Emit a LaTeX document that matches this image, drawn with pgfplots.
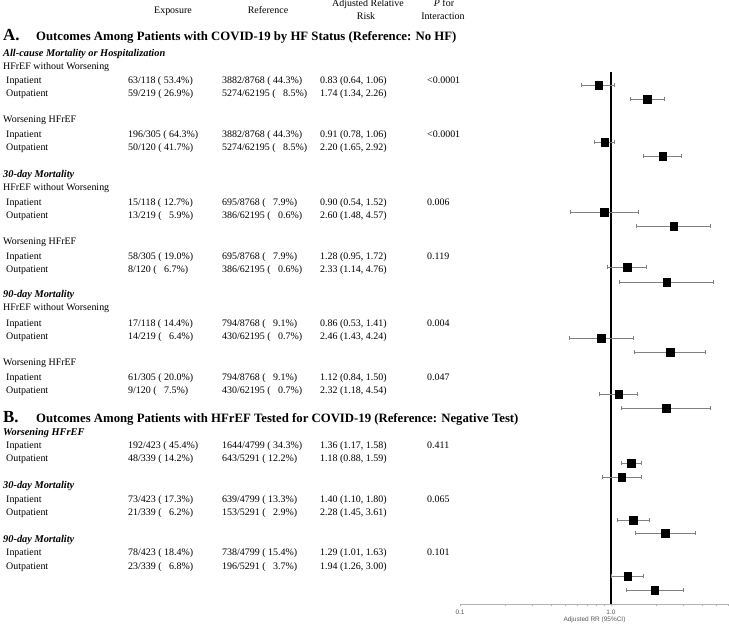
\documentclass[border=0pt]{standalone}
\usepackage{pgfplots}
\pgfplotsset{compat=1.18}
\usepackage{pgfplotstable}
\usepackage{fontspec}
\setmainfont{Liberation Serif}
\setsansfont{Liberation Sans}

% forest rows: rr, CI, pixel row of the square
\pgfplotstableread{
rr   lo   hi   row
0.83 0.64 1.06 85
1.74 1.34 2.26 99
0.91 0.78 1.06 142
2.20 1.65 2.92 156
0.90 0.54 1.52 212
2.60 1.48 4.57 226
1.28 0.95 1.72 267
2.33 1.14 4.76 282
0.86 0.53 1.41 338
2.46 1.43 4.24 352
1.12 0.84 1.50 394
2.32 1.18 4.54 408
1.36 1.17 1.58 463
1.18 0.88 1.59 477
1.40 1.10 1.80 520
2.28 1.45 3.61 533
1.29 1.01 1.63 576
1.94 1.26 3.00 590
}\forest

\tikzset{
  cell/.style={anchor=west, inner sep=0pt, text height=7bp, text depth=2bp, font=\fontsize{10}{12}\selectfont},
  hdr/.style={anchor=center, inner sep=0pt, text height=7bp, text depth=2bp, font=\fontsize{10}{12}\selectfont},
  sec/.style={anchor=west, inner sep=0pt, text height=7bp, text depth=2bp, font=\fontsize{10.4}{12}\selectfont\bfseries\itshape},
}
\newcommand{\datarow}[6]{%
  \node[cell] at (6,#1) {#2};
  \node[cell] at (128,#1) {#3};
  \node[cell] at (222,#1) {#4};
  \node[cell] at (320,#1) {#5};
  \node[cell] at (427,#1) {#6};}
\newcommand{\pp}{\hphantom{0}}

\begin{document}
\begin{tikzpicture}
\useasboundingbox (0bp,0bp) rectangle (729bp,-631bp);

\begin{scope}[x=1bp, y=-1bp]
% column headers
\node[hdr] at (173,11) {Exposure};
\node[hdr] at (268,11) {Reference};
\node[hdr] at (368,4) {Adjusted Relative};
\node[hdr] at (366,17) {Risk};
\node[hdr] at (444,4) {\textit{P} for};
\node[hdr] at (443,17) {Interaction};

% panel A
\node[anchor=base west, inner sep=0pt, font=\fontsize{17}{17}\selectfont\bfseries] at (3,40) {A.};
\node[anchor=base west, inner sep=0pt, font=\fontsize{12.8}{14}\selectfont\bfseries] at (36,40) {Outcomes Among Patients with COVID-19 by HF Status (Reference: No HF)};

\node[sec] at (3,54) {All-cause Mortality or Hospitalization};
\node[cell] at (3,67) {HFrEF without Worsening};
\datarow{81}{Inpatient}{63/118 (~53.4\%)}{3882/8768 (~44.3\%)}{0.83 (0.64, 1.06)}{<0.0001}
\datarow{94}{Outpatient}{59/219 (~26.9\%)}{5274/62195 (~\pp8.5\%)}{1.74 (1.34, 2.26)}{}
\node[cell] at (3,120) {Worsening HFrEF};
\datarow{135}{Inpatient}{196/305 (~64.3\%)}{3882/8768 (~44.3\%)}{0.91 (0.78, 1.06)}{<0.0001}
\datarow{148}{Outpatient}{50/120 (~41.7\%)}{5274/62195 (~\pp8.5\%)}{2.20 (1.65, 2.92)}{}

\node[sec] at (3,175) {30-day Mortality};
\node[cell] at (3,188) {HFrEF without Worsening};
\datarow{203}{Inpatient}{15/118 (~12.7\%)}{695/8768 (~\pp7.9\%)}{0.90 (0.54, 1.52)}{0.006}
\datarow{216}{Outpatient}{13/219 (~\pp5.9\%)}{386/62195 (~\pp0.6\%)}{2.60 (1.48, 4.57)}{}
\node[cell] at (3,242) {Worsening HFrEF};
\datarow{257}{Inpatient}{58/305 (~19.0\%)}{695/8768 (~\pp7.9\%)}{1.28 (0.95, 1.72)}{0.119}
\datarow{270}{Outpatient}{8/120 (~\pp6.7\%)}{386/62195 (~\pp0.6\%)}{2.33 (1.14, 4.76)}{}

\node[sec] at (3,295) {90-day Mortality};
\node[cell] at (3,308) {HFrEF without Worsening};
\datarow{324}{Inpatient}{17/118 (~14.4\%)}{794/8768 (~\pp9.1\%)}{0.86 (0.53, 1.41)}{0.004}
\datarow{337}{Outpatient}{14/219 (~\pp6.4\%)}{430/62195 (~\pp0.7\%)}{2.46 (1.43, 4.24)}{}
\node[cell] at (3,363) {Worsening HFrEF};
\datarow{378}{Inpatient}{61/305 (~20.0\%)}{794/8768 (~\pp9.1\%)}{1.12 (0.84, 1.50)}{0.047}
\datarow{391}{Outpatient}{9/120 (~\pp7.5\%)}{430/62195 (~\pp0.7\%)}{2.32 (1.18, 4.54)}{}

% panel B
\node[anchor=base west, inner sep=0pt, font=\fontsize{17}{17}\selectfont\bfseries] at (3,422) {B.};
\node[anchor=base west, inner sep=0pt, font=\fontsize{12.8}{14}\selectfont\bfseries] at (36,422) {Outcomes Among Patients with HFrEF Tested for COVID-19 (Reference: Negative Test)};

\node[sec] at (3,433) {Worsening HFrEF};
\datarow{446}{Inpatient}{192/423 (~45.4\%)}{1644/4799 (~34.3\%)}{1.36 (1.17, 1.58)}{0.411}
\datarow{459}{Outpatient}{48/339 (~14.2\%)}{643/5291 (~12.2\%)}{1.18 (0.88, 1.59)}{}
\node[sec] at (3,486) {30-day Mortality};
\datarow{500}{Inpatient}{73/423 (~17.3\%)}{639/4799 (~13.3\%)}{1.40 (1.10, 1.80)}{0.065}
\datarow{513}{Outpatient}{21/339 (~\pp6.2\%)}{153/5291 (~\pp2.9\%)}{2.28 (1.45, 3.61)}{}
\node[sec] at (3,540) {90-day Mortality};
\datarow{553}{Inpatient}{78/423 (~18.4\%)}{738/4799 (~15.4\%)}{1.29 (1.01, 1.63)}{0.101}
\datarow{567}{Outpatient}{23/339 (~\pp6.8\%)}{196/5291 (~\pp3.7\%)}{1.94 (1.26, 3.00)}{}
\end{scope}

\begin{axis}[
    at={(460bp,-604bp)}, anchor=south west,
    scale only axis, width=269bp, height=532bp,
    xmode=log, xmin=0.1, xmax=6.05,
    ymin=-604, ymax=-72,
    clip=false,
    axis x line*=bottom, axis y line=none,
    x axis line style={gray!60, line width=0.7bp},
    xtick={0.1,1}, xticklabels={0.1,1.0},
    minor xtick={0.2,0.3,0.4,0.5,0.6,0.7,0.8,0.9,2,3,4,5,6},
    tick align=outside,
    major tick length=2bp, minor tick length=1.5bp,
    tick style={gray!60, line width=0.5bp},
    xticklabel style={font=\sffamily\fontsize{6.5}{7}\selectfont, text=gray!70!black},
    xlabel={Adjusted RR (95\%CI)},
    xlabel style={font=\sffamily\fontsize{6.5}{7}\selectfont, text=gray!70!black, yshift=4bp},
]
\addplot[black, line width=1.1bp] coordinates {(1,-72) (1,-604)};
\addplot[only marks, mark=square*, mark size=3.7bp, black,
    error bars/.cd, x dir=both, x explicit,
    error bar style={gray, line width=0.8bp},
    error mark options={gray, mark size=2bp, line width=0.8bp, rotate=90}]
  table[x=rr, y expr=-\thisrow{row},
        x error plus expr=\thisrow{hi}-\thisrow{rr},
        x error minus expr=\thisrow{rr}-\thisrow{lo}] {\forest};
\end{axis}
\end{tikzpicture}
\end{document}
